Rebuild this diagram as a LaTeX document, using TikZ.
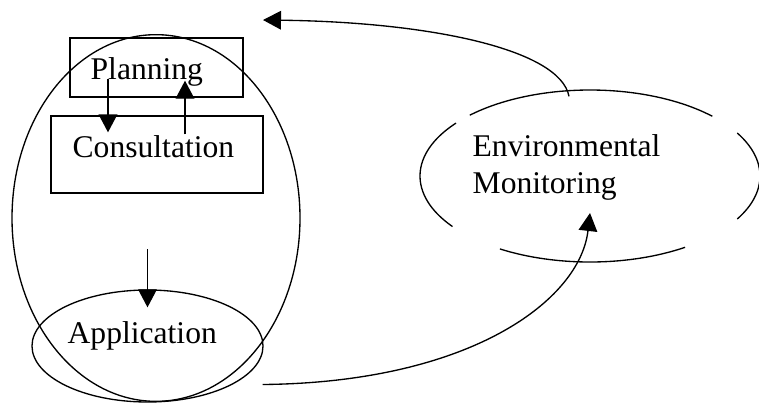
\documentclass[tikz,border=0pt]{standalone}
\usepackage{fontspec}
\setmainfont{Liberation Serif}
\usetikzlibrary{shapes.geometric,arrows.meta,calc}

\tikzset{every picture/.style={line width=1pt}}
\tikzset{
  lbl/.style={font=\fontsize{23.7}{28}\selectfont, anchor=base west, inner sep=0pt},
  box/.style={draw, rectangle, inner sep=0pt},
  oval/.style={draw, ellipse, inner sep=0pt},
  arr/.style={-{Triangle[length=13.5pt,width=14pt]}}
}

\begin{document}
\begin{tikzpicture}[x=0.75pt,y=0.75pt,yscale=-1,xscale=1]
\useasboundingbox (0,0) rectangle (759,404);

%Shape: big cycle
\node [oval, minimum width=216pt, minimum height=275pt] (loop) at (156,218) {};
%Shape: Planning box
\node [box, minimum width=129.75pt, minimum height=44.25pt] (plan) at (156.5,67.5) {};
%Shape: Consultation box
\node [box, minimum width=159pt, minimum height=57.75pt] (cons) at (157,154.5) {};
%Shape: Application ellipse
\node [oval, minimum width=173.25pt, minimum height=84pt] (app) at (147.5,346) {};
%Shape: Environmental Monitoring ellipse (broken outline)
\node [ellipse, minimum width=255pt, minimum height=129pt] (env) at (590,176) {};
\draw (env.center) ++(-44:170 and 86) arc[start angle=-44, end angle=-135, x radius=170, y radius=86];
\draw (env.center) ++(-142:170 and 86) arc[start angle=-142, end angle=-216, x radius=170, y radius=86];
\draw (env.center) ++(30:170 and 86) arc[start angle=30, end angle=-30, x radius=170, y radius=86];
\draw (env.center) ++(122:170 and 86) arc[start angle=122, end angle=56, x radius=170, y radius=86];

% Text Nodes
\node [lbl] (plantxt) at (90,79) {Planning};
\node [lbl] (constxt) at (72,157) {Consultation};
\node [lbl] (apptxt) at (67,343) {Application};
\node [lbl] (envtxt) at (472,156) {Environmental};
\node [lbl] (montxt) at (472,193) {Monitoring};

%Straight Lines
\draw [arr] ($(plan.south)+(-48.5,-19)$) -- ($(cons.north)+(-49,17)$);
\draw [arr] ($(cons.north)+(28,19)$) -- ($(plan.south)+(28.5,-17)$);
\draw [arr] ($(app.north)+(0,-40)$) -- ($(app.north)+(0,18)$);

%Curve Lines
\draw [arr] ($(env.north)+(-21,7)$) .. controls +(-9,-47) and +(167,2) .. ($(loop.north)+(107,-14)$);
\draw [arr] ($(app.east)+(-1,38.5)$) .. controls +(208,-2) and +(-10,87) .. ($(env.center)+(0,37)$);

\end{tikzpicture}
\end{document}
